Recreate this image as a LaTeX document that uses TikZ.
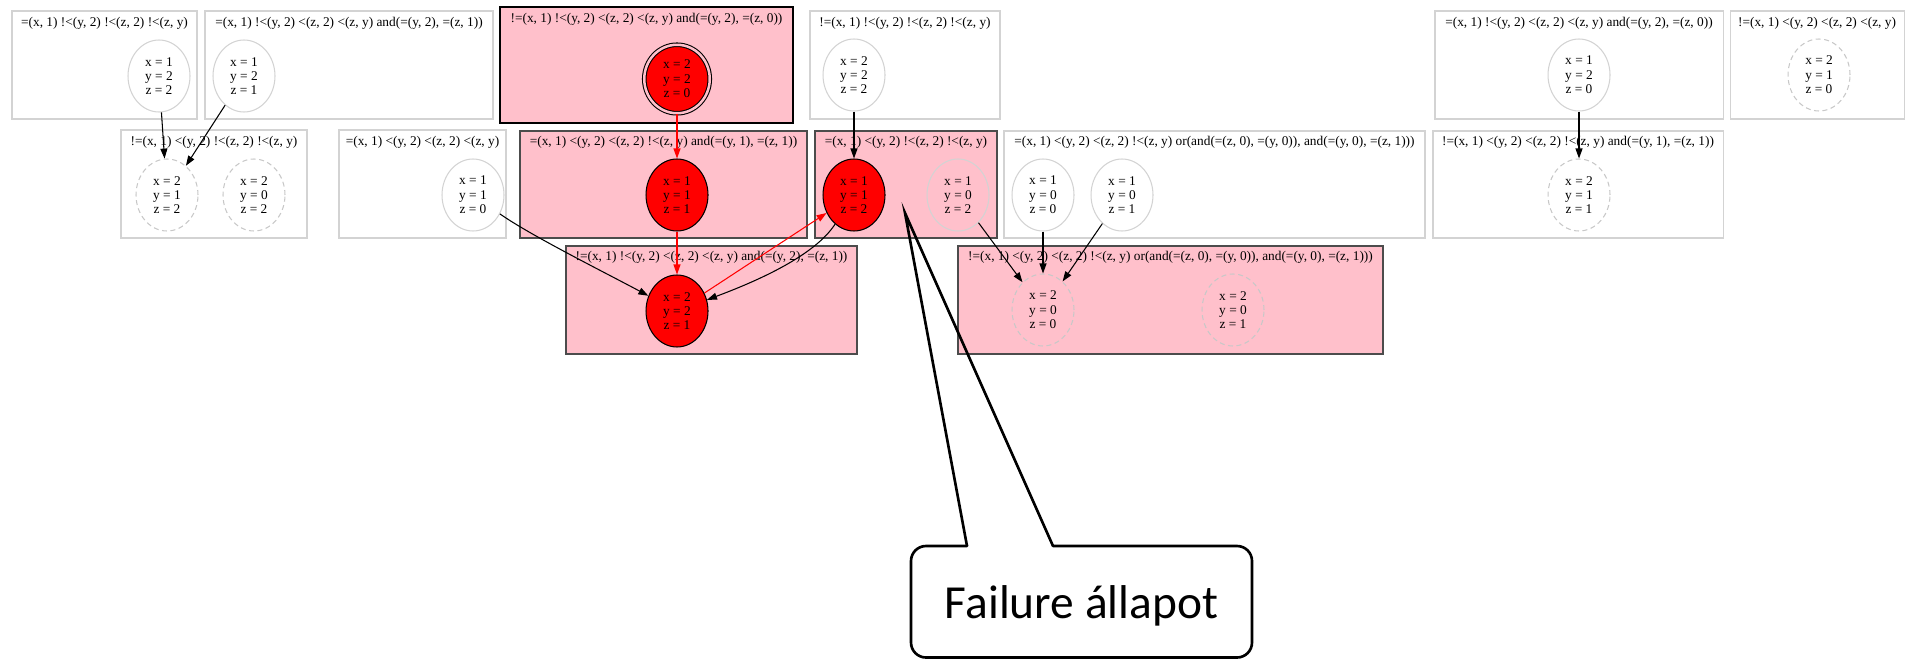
\documentclass[tikz,border=0pt]{standalone}
\usepackage{fontspec}
\setmainfont{Liberation Serif}
\newfontfamily\calloutfont{Carlito}
\usetikzlibrary{shapes.geometric,arrows.meta}
\definecolor{boxpink}{RGB}{255,192,203}
\definecolor{boxgray}{RGB}{211,211,211}
\definecolor{dashgray}{RGB}{200,200,200}
\begin{document}
\begin{tikzpicture}[x=0.02cm,y=-0.02cm,
  cluster/.style={draw=boxgray,line width=0.6pt},
  failcluster/.style={draw=black!70,fill=boxpink,line width=0.6pt},
  title/.style={anchor=base,inner sep=0pt,font=\fontsize{7.6}{8.2}\selectfont},
  state/.style={ellipse,draw=boxgray,line width=0.6pt,minimum width=1.24cm,minimum height=1.44cm,inner sep=0pt,align=center,font=\fontsize{7.6}{8.2}\selectfont},
  dashstate/.style={state,draw=dashgray,dash pattern=on 0.1cm off 0.07cm},
  failstate/.style={state,draw=black,fill=red},
  edge/.style={-{Triangle[length=0.2cm,width=0.14cm]},line width=0.6pt},
  failedge/.style={edge,red},
  callout/.style={line width=1.5pt}]
\useasboundingbox (0,0) rectangle (1905,659);

\draw[cluster] (12,11) rectangle (197,119);
\node[title] (tA) at (104.5,26.5) {=(x, 1) !<(y, 2) !<(z, 2) !<(z, y)};
\node[state] (sA) at (159,76) {x = 1\\y = 2\\z = 2};

\draw[cluster] (205,11) rectangle (493,119);
\node[title] (tB) at (349,26.5) {=(x, 1) !<(y, 2) <(z, 2) <(z, y) and(=(y, 2), =(z, 1))};
\node[state] (sB) at (244,76) {x = 1\\y = 2\\z = 1};

\draw[failcluster,draw=black,line width=1.2pt] (500,7) rectangle (793,123);
\node[title] (tC) at (646.5,22.5) {!=(x, 1) !<(y, 2) <(z, 2) <(z, y) and(=(y, 2), =(z, 0))};
\node[failstate,minimum width=1.31cm,minimum height=1.37cm,double=boxpink,double distance=0.05cm] (sC) at (677,79) {x = 2\\y = 2\\z = 0};

\draw[cluster] (810,11) rectangle (1000,119);
\node[title] (tD) at (905,26.5) {!=(x, 1) !<(y, 2) !<(z, 2) !<(z, y)};
\node[state] (sD) at (854,75) {x = 2\\y = 2\\z = 2};

\draw[cluster] (1435,11) rectangle (1723,119);
\node[title] (tE) at (1579,26.5) {=(x, 1) !<(y, 2) <(z, 2) <(z, y) and(=(y, 2), =(z, 0))};
\node[state] (sE) at (1579,75) {x = 1\\y = 2\\z = 0};

\draw[cluster] (1730,11) rectangle (1904,119);
\node[title] (tF) at (1817,26.5) {!=(x, 1) <(y, 2) <(z, 2) <(z, y)};
\node[dashstate] (sF) at (1819,75) {x = 2\\y = 1\\z = 0};

\draw[cluster] (121,130) rectangle (307,238);
\node[title] (tH) at (214,145.5) {!=(x, 1) <(y, 2) !<(z, 2) !<(z, y)};
\node[dashstate] (sH1) at (167,195) {x = 2\\y = 1\\z = 2};
\node[dashstate] (sH2) at (254,195) {x = 2\\y = 0\\z = 2};

\draw[cluster] (339,130) rectangle (506,238);
\node[title] (tI) at (422.5,145.5) {=(x, 1) <(y, 2) <(z, 2) <(z, y)};
\node[state] (sI) at (473,195) {x = 1\\y = 1\\z = 0};

\draw[failcluster] (520,131) rectangle (807,238);
\node[title] (tJ) at (663.5,145.5) {=(x, 1) <(y, 2) <(z, 2) !<(z, y) and(=(y, 1), =(z, 1))};
\node[failstate] (sJ) at (677,195) {x = 1\\y = 1\\z = 1};

\draw[failcluster] (815,131) rectangle (997,238);
\node[title] (tK) at (906,145.5) {=(x, 1) <(y, 2) !<(z, 2) !<(z, y)};
\node[failstate] (sK1) at (854,195) {x = 1\\y = 1\\z = 2};
\node[state] (sK2) at (958,195) {x = 1\\y = 0\\z = 2};

\draw[cluster] (1004,131) rectangle (1425,238);
\node[title] (tM) at (1214.5,145.5) {=(x, 1) <(y, 2) <(z, 2) !<(z, y) or(and(=(z, 0), =(y, 0)), and(=(y, 0), =(z, 1)))};
\node[state] (sM1) at (1043,195) {x = 1\\y = 0\\z = 0};
\node[state] (sM2) at (1122,195) {x = 1\\y = 0\\z = 1};

\draw[cluster] (1433,131) rectangle (1723,238);
\node[title] (tG) at (1578,145.5) {!=(x, 1) <(y, 2) <(z, 2) !<(z, y) and(=(y, 1), =(z, 1))};
\node[dashstate] (sG) at (1579,195) {x = 2\\y = 1\\z = 1};

\draw[failcluster] (566,246) rectangle (857,354);
\node[title] (tL) at (711.5,260.5) {!=(x, 1) !<(y, 2) <(z, 2) <(z, y) and(=(y, 2), =(z, 1))};
\node[failstate] (sL) at (677,311) {x = 2\\y = 2\\z = 1};

\draw[failcluster] (958,246) rectangle (1383,354);
\node[title] (tN) at (1170.5,260.5) {!=(x, 1) <(y, 2) <(z, 2) !<(z, y) or(and(=(z, 0), =(y, 0)), and(=(y, 0), =(z, 1)))};
\node[dashstate] (sN1) at (1043,310) {x = 2\\y = 0\\z = 0};
\node[dashstate] (sN2) at (1233,310) {x = 2\\y = 0\\z = 1};

\draw[edge] (sA) -- (sH1);
\draw[edge] (sB) -- (sH1);
\draw[failedge] (sC) -- (sJ);
\draw[failedge] (sJ) -- (sL);
\draw[failedge] (sL) -- (sK1);
\draw[edge] (sK1) .. controls (815,255) and (760,280) .. (sL);
\draw[edge] (sI) .. controls (530,235) and (600,270) .. (sL);
\draw[edge] (sD) -- (sK1);
\draw[edge] (sK2) -- (sN1);
\draw[edge] (sM1) -- (sN1);
\draw[edge] (sM2) -- (sN1);
\draw[edge] (sE) -- (sG);

\draw[callout,line join=miter] (967,546) -- (905,213) -- (1053,546);
\draw[callout,line cap=round,rounded corners=0.3cm] (1053,546) -- (1252,546) -- (1252,657.5) -- (911,657.5) -- (911,546) -- (967,546);
\node[anchor=base,inner sep=0pt,font=\calloutfont\fontsize{27}{30}\selectfont] (fail) at (1081.5,618) {Failure állapot};
\end{tikzpicture}
\end{document}
